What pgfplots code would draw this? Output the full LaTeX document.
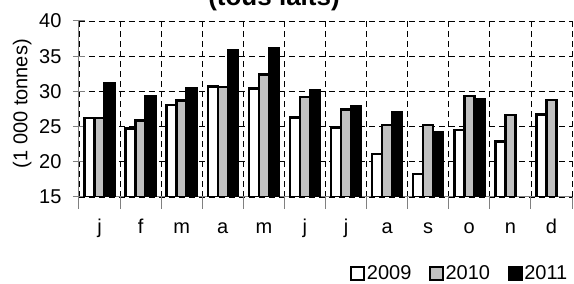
\documentclass[border=0pt]{standalone}
\usepackage{pgfplots}
\pgfplotsset{compat=1.18}
\usepackage{fontspec}
\setmainfont{Liberation Sans}
\definecolor{barsilver}{HTML}{C0C0C0}
\definecolor{axgray}{HTML}{808080}
\begin{document}
\begin{tikzpicture}[x=1pt,y=1pt]
\pgfplotsset{leg/.style={legend image code/.code={\draw[##1, line width=2.2pt] (0pt,-6.5pt) rectangle (13pt,6.5pt);}}}
\begin{axis}[
  at={(79pt,87pt)}, anchor=south west,
  scale only axis, width=493pt, height=176pt,
  xmin=-0.5, xmax=11.5, ymin=15, ymax=40,
  ytick={15,20,...,40},
  xtick={0,...,11}, xticklabels={j,f,m,a,m,j,j,a,s,o,n,d},
  minor xtick={-0.5,0.5,...,11.5},
  major x tick style={draw=none},
  xmajorgrids=false, xminorgrids=true, ymajorgrids=true,
  grid style={dash pattern=on 6pt off 4pt, black, line width=0.7pt},
  minor grid style={dash pattern=on 6pt off 4pt, black, line width=0.7pt},
  axis x line*=bottom, axis y line*=left,
  axis line style={axgray, line width=1pt},
  tick align=center, major tick length=12pt, minor tick length=12pt,
  tick style={axgray, line width=1pt},
  ybar=0pt, bar width=10pt,
  tick label style={font=\fontsize{20}{24}\selectfont},
  /pgf/number format/assume math mode=true,
  xticklabel style={anchor=base, yshift=-25pt},
  yticklabel style={xshift=-8pt},
  ylabel={(1 000 tonnes)},
  ylabel style={at={(axis description cs:-0.115,0.53)}, anchor=center, font=\fontsize{20}{24}\selectfont},
  legend style={at={(axis description cs:1.0,-0.435)}, anchor=east, draw=none, fill=none,
    legend columns=3, font=\fontsize{20}{24}\selectfont,
    /tikz/every even column/.append style={column sep=16pt},
    nodes={inner sep=1.5pt}},
]
\addplot[leg, fill=white, draw=black, line width=2.5pt] coordinates {
(0,26.2) (1,24.75) (2,28.1) (3,30.7) (4,30.4) (5,26.3) (6,24.9) (7,21.1) (8,18.3) (9,24.5) (10,22.9) (11,26.75)};
\addplot[leg, fill=barsilver, draw=black, line width=2.5pt] coordinates {
(0,26.2) (1,25.85) (2,28.7) (3,30.6) (4,32.4) (5,29.2) (6,27.4) (7,25.2) (8,25.2) (9,29.35) (10,26.65) (11,28.8)};
\addplot[leg, fill=black, draw=black, line width=2.5pt] coordinates {
(0,31.1) (1,29.25) (2,30.4) (3,35.9) (4,36.1) (5,30.15) (6,27.9) (7,27.1) (8,24.2) (9,28.9)};
\legend{2009,2010,2011}
\end{axis}
\node[anchor=base, font=\fontsize{26}{30}\selectfont\bfseries] at (274pt,278pt) {(tous laits)};
\pgfresetboundingbox
\useasboundingbox (0pt,0pt) rectangle (574pt,284pt);
\end{tikzpicture}
\end{document}
